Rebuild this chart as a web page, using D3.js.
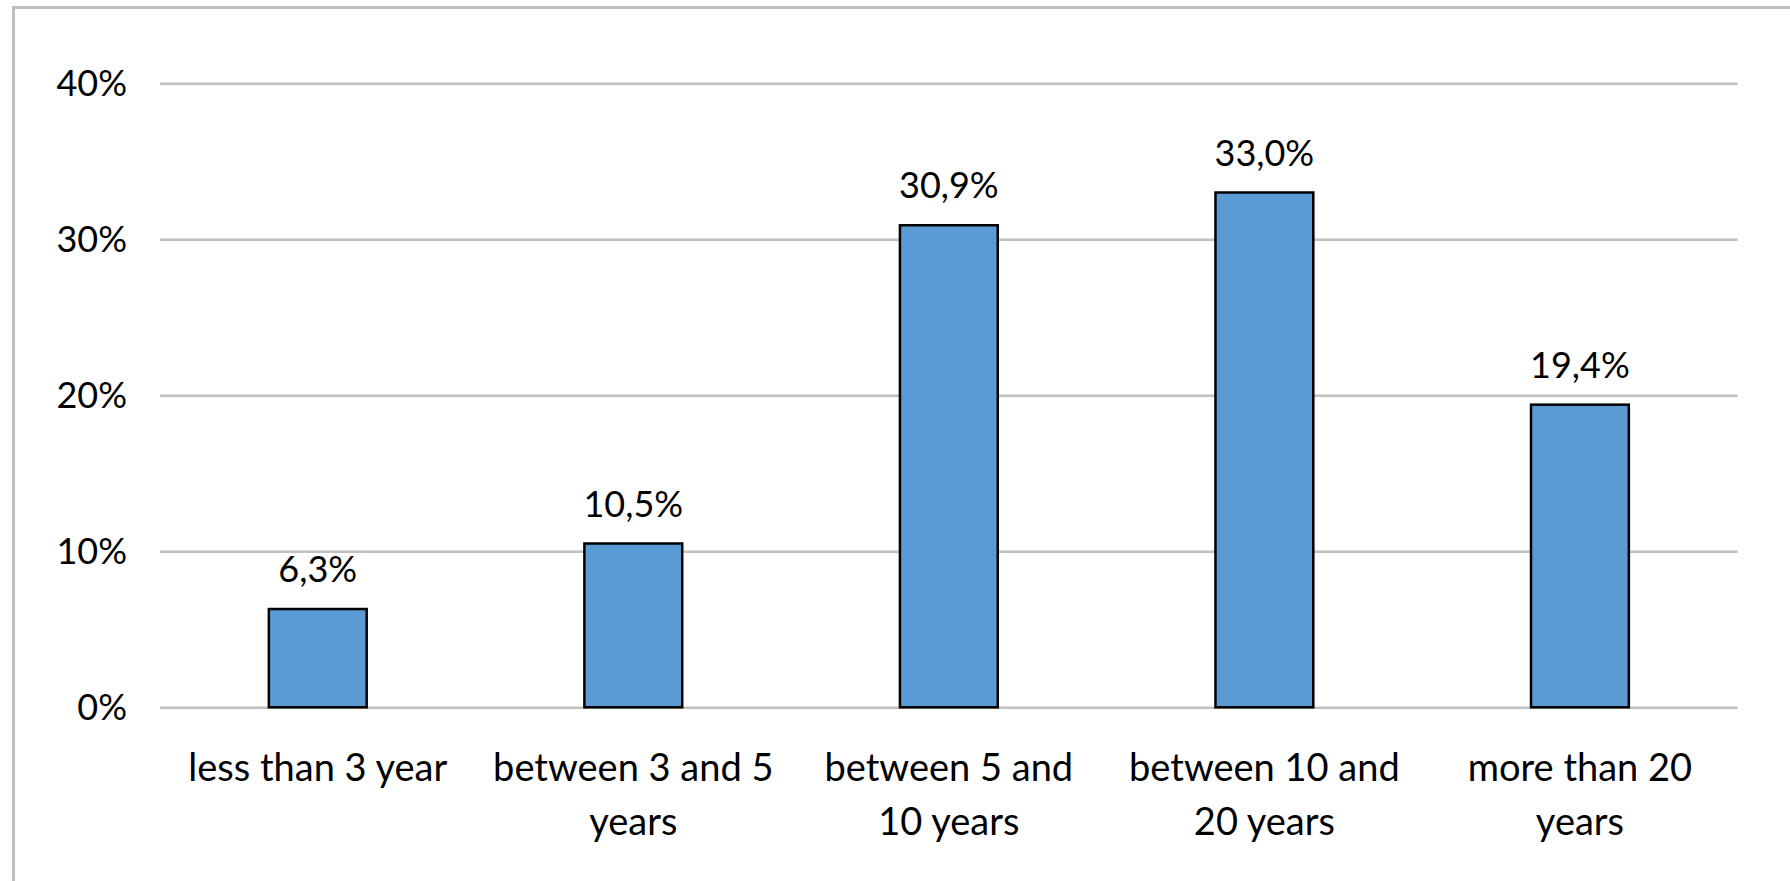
<!DOCTYPE html>
<html>
<head>
<meta charset="utf-8">
<script src="https://cdn.jsdelivr.net/npm/d3@7"></script>
<style>
  html, body { margin: 0; padding: 0; background: #fff; }
  svg { display: block; }
  text { font-family: Lato, "Liberation Sans", sans-serif; fill: #000; }
</style>
</head>
<body>
<svg id="chart" width="1790" height="881"></svg>
<script>
// Share of respondents by length of experience
const categories = [
  "less than 3 year",
  "between 3 and 5\nyears",
  "between 5 and\n10 years",
  "between 10 and\n20 years",
  "more than 20\nyears"
];
const values = [6.3, 10.5, 30.9, 33.0, 19.4];
const yTicks = [0, 10, 20, 30, 40];

const svg = d3.select("#chart");
const W = 1790, H = 881;
const margin = { left: 160, right: W - 1737.7, top: 83.3, bottom: H - 707.3 };
const numSize = 36, catSize = 38;

// chart-area frame
svg.append("rect")
  .attr("x", 13.5).attr("y", 7.5)
  .attr("width", W + 10).attr("height", H + 10)
  .attr("fill", "#fff")
  .attr("stroke", "#bfbfbf").attr("stroke-width", 3);

const x = d3.scaleBand()
  .domain(categories)
  .range([margin.left, W - margin.right])
  .paddingInner(0.69)
  .paddingOuter(0.345);

const y = d3.scaleLinear()
  .domain([0, 40])
  .range([H - margin.bottom, margin.top]);

const fmtPct = d => d3.format(".1f")(d).replace(".", ",") + "%";

// horizontal gridlines + y labels via axis
const yAxis = d3.axisLeft(y)
  .tickValues(yTicks)
  .tickFormat(d => d + "%")
  .tickSize(-(W - margin.left - margin.right))
  .tickPadding(33);

const gy = svg.append("g")
  .attr("transform", `translate(${margin.left},0)`)
  .call(yAxis);
gy.select(".domain").remove();
gy.selectAll(".tick line").attr("stroke", "#c0c0c0").attr("stroke-width", 2.5);
gy.selectAll(".tick text")
  .attr("font-size", numSize)
  .attr("dy", "0.35em");

// bars
svg.append("g").selectAll("rect")
  .data(values)
  .join("rect")
  .attr("x", (d, i) => x(categories[i]))
  .attr("y", d => y(d))
  .attr("width", x.bandwidth())
  .attr("height", d => y(0) - y(d))
  .attr("fill", "#5b9bd5")
  .attr("stroke", "#000")
  .attr("stroke-width", 2.5);

// value labels
svg.append("g").selectAll("text")
  .data(values)
  .join("text")
  .attr("x", (d, i) => x(categories[i]) + x.bandwidth() / 2)
  .attr("y", d => y(d) - 27)
  .attr("text-anchor", "middle")
  .attr("font-size", numSize)
  .text(d => fmtPct(d));

// category labels
const gx = svg.append("g");
categories.forEach(c => {
  const t = gx.append("text")
    .attr("x", x(c) + x.bandwidth() / 2)
    .attr("y", 781)
    .attr("text-anchor", "middle")
    .attr("font-size", catSize);
  c.split("\n").forEach((line, j) => {
    t.append("tspan")
      .attr("x", x(c) + x.bandwidth() / 2)
      .attr("y", 781 + j * 54)
      .text(line);
  });
});
</script>
</body>
</html>
